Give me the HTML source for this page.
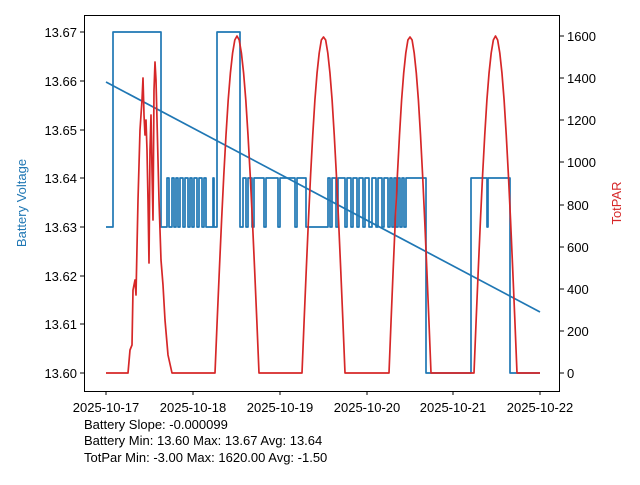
<!DOCTYPE html>
<html><head><style>body{margin:0;background:#fff}svg{font-family:"Liberation Sans","DejaVu Sans",sans-serif}</style></head><body>
<svg width="640" height="480" viewBox="0 0 640 480" xmlns="http://www.w3.org/2000/svg">
<rect width="640" height="480" fill="#fff"/>
<g fill="none" stroke-width="1.7" stroke-linejoin="round">
<polyline stroke="#1f77b4" points="106,227 113,227 113,32 161,32 161,227 167,227 167,178 169,178 169,227 172,227 172,178 174,178 174,227 176,227 176,178 178,178 178,227 180,227 180,178 183,178 183,227 185,227 185,178 188,178 188,227 190,227 190,178 192,178 192,227 194,227 194,178 197,178 197,227 199,227 199,178 202,178 202,227 204,227 204,178 206,178 206,227 213,227 213,178 214,178 214,227 217,227 217,32 240,32 240,227 243,227 243,178 246,178 246,227 248,227 248,178 252,178 252,227 254,227 254,178 264,178 264,227 266,227 266,178 278,178 278,227 280,227 280,178 295,178 295,227 297,227 297,178 306,178 306,227 308,227 308,227 328,227 328,178 330,178 330,227 332,227 332,178 336,178 336,227 338,227 338,178 345,178 345,227 347,227 347,178 351,178 351,227 353,227 353,178 357,178 357,227 359,227 359,178 363,178 363,227 365,227 365,178 369,178 369,227 372,227 372,178 376,178 376,227 378,227 378,178 382,178 382,227 384,227 384,178 388,178 388,227 390,227 390,178 392,178 392,227 394,227 394,178 396,178 396,227 398,227 398,178 400,178 400,227 402,227 402,178 404,178 404,227 406,227 406,178 426,178 426,373 471,373 471,178 487,178 487,227 488,227 488,178 510,178 510,373 540,373"/>
<polyline stroke="#1f77b4" points="106,82 540,312"/>
<polyline stroke="#d62728" points="106,373 128,373 130,350 132,345 133,290 135,280 136,295 138,200 140,130 142,100 143,78 144,115 145,135 146,120 147,150 148,200 149,263 150,150 151,115 152,170 153,220 154,90 155,62 156,80 157,120 158,160 159,200 160,230 161,260 163,285 165,320 168,355 172,373 215,373 217.2,320 219.4,269 221.6,220 223.8,175 226,135 228.2,100 230.4,73 232.6,53 234.8,40 237,36 239.2,40 241.4,53 243.6,73 245.8,100 248,135 250.2,175 252.4,220 254.6,269 256.8,320 259,373 302,373 304.15,320 306.3,269 308.45,220 310.6,175 312.75,135 314.9,100 317.05,73 319.2,53 321.35,40 323.5,37 325.65,40 327.8,53 329.95,73 332.1,100 334.25,135 336.4,175 338.55,220 340.7,269 342.85,320 345,373 389,373 391.1,320 393.2,269 395.3,220 397.4,175 399.5,135 401.6,100 403.7,73 405.8,53 407.9,40 410,37 412.1,40 414.2,53 416.3,73 418.4,100 420.5,135 422.6,175 424.7,220 426.8,269 428.9,320 431,373 474,373 476.15,320 478.3,269 480.45,220 482.6,175 484.75,135 486.9,100 489.05,73 491.2,53 493.35,40 495.5,36 497.65,40 499.8,53 501.95,73 504.1,100 506.25,135 508.4,175 510.55,220 512.7,269 514.85,320 517,373 540,373"/>
</g>
<rect x="84.5" y="15.5" width="475" height="376" fill="none" stroke="#000" stroke-width="1"/>
<g stroke="#000" stroke-width="1">
<line x1="84" y1="32" x2="80" y2="32"/><line x1="84" y1="81" x2="80" y2="81"/><line x1="84" y1="130" x2="80" y2="130"/><line x1="84" y1="178" x2="80" y2="178"/><line x1="84" y1="227" x2="80" y2="227"/><line x1="84" y1="276" x2="80" y2="276"/><line x1="84" y1="324" x2="80" y2="324"/><line x1="84" y1="373" x2="80" y2="373"/>
<line x1="560" y1="36" x2="564" y2="36"/><line x1="560" y1="78" x2="564" y2="78"/><line x1="560" y1="120" x2="564" y2="120"/><line x1="560" y1="162" x2="564" y2="162"/><line x1="560" y1="205" x2="564" y2="205"/><line x1="560" y1="247" x2="564" y2="247"/><line x1="560" y1="289" x2="564" y2="289"/><line x1="560" y1="331" x2="564" y2="331"/><line x1="560" y1="373" x2="564" y2="373"/>
<line x1="106" y1="391" x2="106" y2="395"/><line x1="193" y1="391" x2="193" y2="395"/><line x1="280" y1="391" x2="280" y2="395"/><line x1="367" y1="391" x2="367" y2="395"/><line x1="453" y1="391" x2="453" y2="395"/><line x1="540" y1="391" x2="540" y2="395"/>
</g>
<g font-size="13" fill="#000" text-anchor="end">
<text x="77" y="37">13.67</text><text x="77" y="86">13.66</text><text x="77" y="135">13.65</text><text x="77" y="183">13.64</text><text x="77" y="232">13.63</text><text x="77" y="281">13.62</text><text x="77" y="329">13.61</text><text x="77" y="378">13.60</text>
</g>
<g font-size="13" fill="#000" text-anchor="start">
<text x="567" y="41">1600</text><text x="567" y="83">1400</text><text x="567" y="125">1200</text><text x="567" y="167">1000</text><text x="567" y="210">800</text><text x="567" y="252">600</text><text x="567" y="294">400</text><text x="567" y="336">200</text><text x="567" y="378">0</text>
</g>
<g font-size="13" fill="#000" text-anchor="middle">
<text x="106" y="412">2025-10-17</text><text x="193" y="412">2025-10-18</text><text x="280" y="412">2025-10-19</text><text x="367" y="412">2025-10-20</text><text x="453" y="412">2025-10-21</text><text x="540" y="412">2025-10-22</text>
</g>
<text transform="translate(26,203) rotate(-90)" font-size="13" fill="#1f77b4" text-anchor="middle">Battery Voltage</text>
<text transform="translate(621,203) rotate(-90)" font-size="13" fill="#d62728" text-anchor="middle">TotPAR</text>
<g font-size="13" fill="#000">
<text x="84" y="429">Battery Slope: -0.000099</text>
<text x="84" y="445">Battery Min: 13.60 Max: 13.67 Avg: 13.64</text>
<text x="84" y="462">TotPar Min: -3.00 Max: 1620.00 Avg: -1.50</text>
</g>
</svg>
</body></html>
